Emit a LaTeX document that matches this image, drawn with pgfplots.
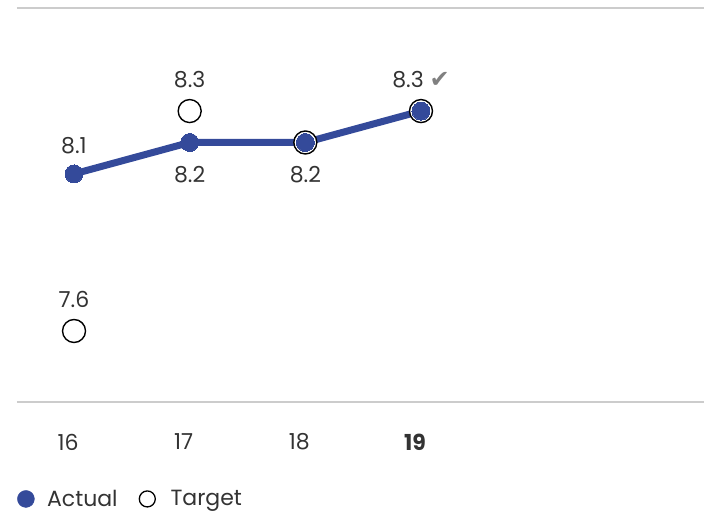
\documentclass[border=0pt]{standalone}
\usepackage{pgfplots}
\pgfplotsset{compat=1.18}
\usepackage{fontspec}
\setmainfont{Poppins}
\newfontfamily\symfont{DejaVu Sans}
\definecolor{actual}{RGB}{52,74,154}
\definecolor{txt}{RGB}{51,51,51}
\definecolor{gridc}{RGB}{204,204,204}
\definecolor{chk}{RGB}{128,128,128}
\begin{document}
\begin{tikzpicture}[font=\fontsize{22pt}{26pt}\selectfont, x=1pt, y=1pt]
\useasboundingbox (0,0) rectangle (704,515);
\begin{axis}[
  at={(17pt,113pt)}, anchor=south west,
  width=687pt, height=394pt, scale only axis,
  xmin=15.507, xmax=21.447, ymin=7.374, ymax=8.628,
  axis line style={draw=none},
  xtick={16,17,18,19},
  xticklabels={16,17,18,\textbf{19}},
  ytick=\empty,
  major tick length=0pt,
  xticklabel style={anchor=center, yshift=-40pt, xshift=-6pt, text=txt},
  clip=false,
  legend style={at={(0,-0.246)}, anchor=west, draw=none, fill=none, inner sep=0pt,
    font=\fontsize{22pt}{26pt}\selectfont, text=txt,
    /tikz/every even column/.append style={column sep=19pt}},
  legend columns=2,
  legend cell align=left,
]
\draw[gridc, line width=1.5pt] (rel axis cs:0,1) -- (rel axis cs:1,1);
\draw[gridc, line width=2pt] (rel axis cs:0,0) -- (rel axis cs:1,0);
\addlegendimage{legend image code/.code={\fill[actual] (9pt,0pt) circle (8.5pt); \path (28pt,0pt);}}
\addlegendentry{Actual}
\addlegendimage{legend image code/.code={\draw[black, line width=1.3pt, fill=white] (9pt,0pt) circle (8pt); \path (30pt,0pt);}}
\addlegendentry{Target}
% Target
\addplot[only marks, mark=*, mark size=11.5pt, mark options={fill=white, draw=black, line width=1.4pt}, forget plot]
  coordinates {(16,7.6) (17,8.3) (18,8.2) (19,8.3)};
% Actual
\addplot[actual, line width=7pt, mark=*, mark size=9pt, mark options={fill=actual, draw=actual, line width=0pt}, forget plot]
  coordinates {(16,8.1) (17,8.2) (18,8.2) (19,8.3)};
\node[text=txt] at (axis cs:16,8.1) [yshift=28pt] {8.1};
\node[text=txt] at (axis cs:17,8.2) [yshift=-32pt] {8.2};
\node[text=txt] at (axis cs:18,8.2) [yshift=-32pt] {8.2};
\node[text=txt] at (axis cs:19,8.3) [yshift=31pt] {8.3 {\symfont\color{chk}\fontsize{24pt}{26pt}\selectfont ✔}};
\node[text=txt] at (axis cs:17,8.3) [yshift=31pt] {8.3};
\node[text=txt] at (axis cs:16,7.6) [yshift=32pt] {7.6};
\end{axis}
\end{tikzpicture}
\end{document}
